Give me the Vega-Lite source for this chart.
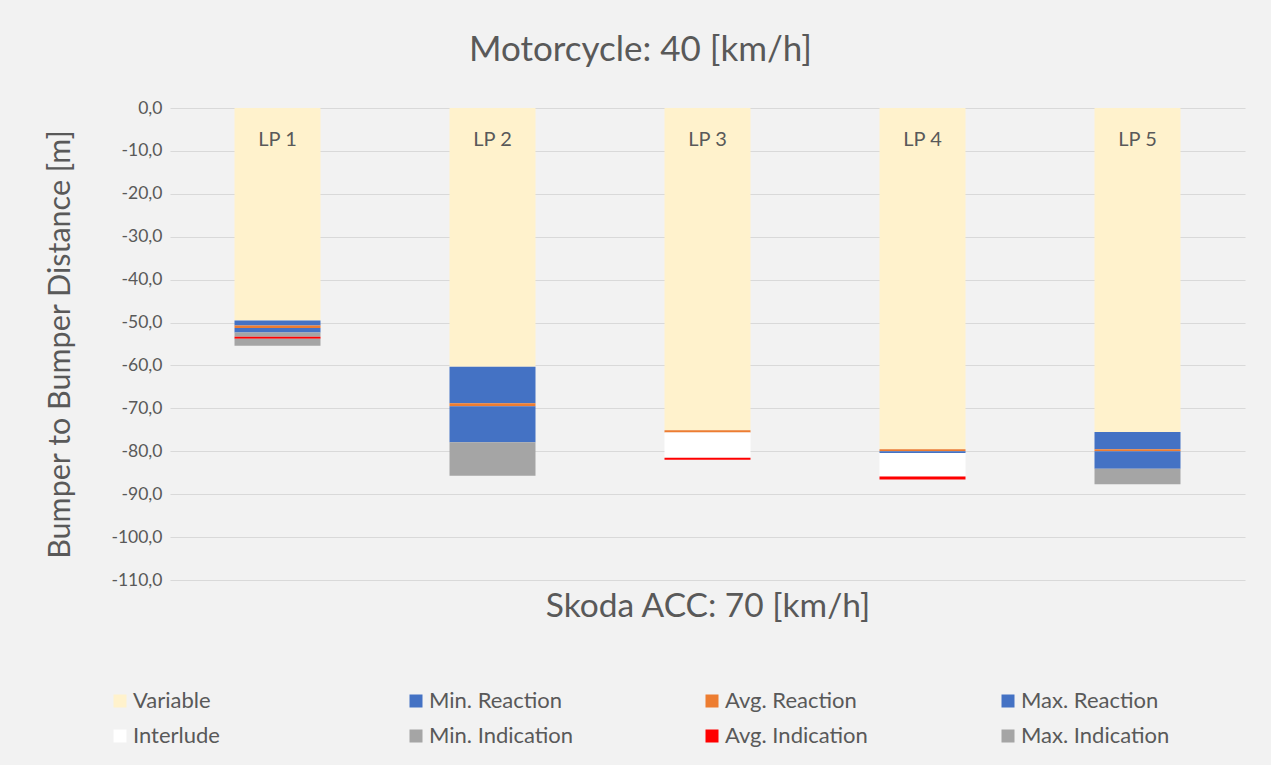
{
  "$schema": "https://vega.github.io/schema/vega-lite/v6.json",
  "autosize": {"type": "none"},
  "padding": {"left": 170, "top": 108, "right": 26, "bottom": 185},
  "width": 1075,
  "height": 472,
  "background": "#f2f2f2",
  "title": {"text": "Motorcycle: 40 [km/h]", "fontSize": 35, "font": "Lato", "fontWeight": "normal", "color": "#595959", "offset": 31, "anchor": "middle", "dx": -67},
  "config": {
    "view": {"stroke": null},
    "font": "Lato",
    "axis": {"labelFont": "Lato", "titleFont": "Lato"},
    "legend": {"labelFont": "Lato"}
  },
  "datasets": {
    "segs": [
      {"lp": "LP 1", "segment": "Variable", "k": 1, "value": -49.5},
      {"lp": "LP 1", "segment": "Min. Reaction", "k": 2, "value": -1.2},
      {"lp": "LP 1", "segment": "Avg. Reaction", "k": 3, "value": -0.6},
      {"lp": "LP 1", "segment": "Max. Reaction", "k": 4, "value": -1.0},
      {"lp": "LP 1", "segment": "Interlude", "k": 5, "value": 0},
      {"lp": "LP 1", "segment": "Min. Indication", "k": 6, "value": -1.0},
      {"lp": "LP 1", "segment": "Avg. Indication", "k": 7, "value": -0.5},
      {"lp": "LP 1", "segment": "Max. Indication", "k": 8, "value": -1.6},
      {"lp": "LP 2", "segment": "Variable", "k": 1, "value": -60.3},
      {"lp": "LP 2", "segment": "Min. Reaction", "k": 2, "value": -8.5},
      {"lp": "LP 2", "segment": "Avg. Reaction", "k": 3, "value": -0.7},
      {"lp": "LP 2", "segment": "Max. Reaction", "k": 4, "value": -8.4},
      {"lp": "LP 2", "segment": "Interlude", "k": 5, "value": 0},
      {"lp": "LP 2", "segment": "Min. Indication", "k": 6, "value": -7.8},
      {"lp": "LP 2", "segment": "Avg. Indication", "k": 7, "value": 0},
      {"lp": "LP 2", "segment": "Max. Indication", "k": 8, "value": 0},
      {"lp": "LP 3", "segment": "Variable", "k": 1, "value": -75.1},
      {"lp": "LP 3", "segment": "Min. Reaction", "k": 2, "value": 0},
      {"lp": "LP 3", "segment": "Avg. Reaction", "k": 3, "value": -0.5},
      {"lp": "LP 3", "segment": "Max. Reaction", "k": 4, "value": 0},
      {"lp": "LP 3", "segment": "Interlude", "k": 5, "value": -5.9},
      {"lp": "LP 3", "segment": "Min. Indication", "k": 6, "value": 0},
      {"lp": "LP 3", "segment": "Avg. Indication", "k": 7, "value": -0.5},
      {"lp": "LP 3", "segment": "Max. Indication", "k": 8, "value": 0},
      {"lp": "LP 4", "segment": "Variable", "k": 1, "value": -79.5},
      {"lp": "LP 4", "segment": "Min. Reaction", "k": 2, "value": 0},
      {"lp": "LP 4", "segment": "Avg. Reaction", "k": 3, "value": -0.5},
      {"lp": "LP 4", "segment": "Max. Reaction", "k": 4, "value": -0.4},
      {"lp": "LP 4", "segment": "Interlude", "k": 5, "value": -5.5},
      {"lp": "LP 4", "segment": "Min. Indication", "k": 6, "value": 0},
      {"lp": "LP 4", "segment": "Avg. Indication", "k": 7, "value": -0.7},
      {"lp": "LP 4", "segment": "Max. Indication", "k": 8, "value": 0},
      {"lp": "LP 5", "segment": "Variable", "k": 1, "value": -75.5},
      {"lp": "LP 5", "segment": "Min. Reaction", "k": 2, "value": -4.0},
      {"lp": "LP 5", "segment": "Avg. Reaction", "k": 3, "value": -0.5},
      {"lp": "LP 5", "segment": "Max. Reaction", "k": 4, "value": -4.1},
      {"lp": "LP 5", "segment": "Interlude", "k": 5, "value": 0},
      {"lp": "LP 5", "segment": "Min. Indication", "k": 6, "value": -3.6},
      {"lp": "LP 5", "segment": "Avg. Indication", "k": 7, "value": 0},
      {"lp": "LP 5", "segment": "Max. Indication", "k": 8, "value": 0}
    ],
    "labels": [
      {"lp": "LP 1"}, {"lp": "LP 2"}, {"lp": "LP 3"}, {"lp": "LP 4"}, {"lp": "LP 5"}
    ]
  },
  "encoding": {
    "x": {
      "field": "lp", "type": "nominal",
      "scale": {"paddingInner": 0.6, "paddingOuter": 0.3},
      "axis": {"labels": false, "ticks": false, "domain": false, "title": "Skoda ACC: 70 [km/h]", "titleFontSize": 33.5, "titleFontWeight": "normal", "titleColor": "#595959", "titlePadding": 10}
    }
  },
  "layer": [
    {
      "data": {"name": "segs"},
      "mark": {"type": "bar"},
      "encoding": {
        "y": {
          "field": "value", "type": "quantitative", "stack": "zero",
          "scale": {"domain": [-110, 0], "nice": false},
          "axis": {
            "values": [0, -10, -20, -30, -40, -50, -60, -70, -80, -90, -100, -110],
            "labelExpr": "replace(replace(format(datum.value, '.1f'), '.', ','), '\u2212', '-')",
            "labelFontSize": 17.5, "labelColor": "#595959", "labelPadding": 8,
            "ticks": false, "domain": false,
            "gridColor": "#d9d9d9", "gridWidth": 1,
            "title": "Bumper to Bumper Distance [m]", "titleFontSize": 30.5, "titleFontWeight": "normal", "titleColor": "#595959", "titlePadding": 35
          }
        },
        "order": {"field": "k", "type": "quantitative", "sort": "ascending"},
        "color": {
          "field": "segment", "type": "nominal",
          "scale": {
            "domain": ["Variable", "Min. Reaction", "Avg. Reaction", "Max. Reaction", "Interlude", "Min. Indication", "Avg. Indication", "Max. Indication"],
            "range": ["#fff2cc", "#4472c4", "#ed7d31", "#4472c4", "#ffffff", "#a5a5a5", "#ff0000", "#a5a5a5"]
          },
          "legend": {
            "title": null, "orient": "none", "legendX": -61, "legendY": 582,
            "direction": "horizontal", "columns": 4, "gridAlign": "all", "columnPadding": 123, "rowPadding": 13,
            "symbolType": "square", "symbolSize": 169, "symbolStrokeWidth": 0,
            "labelFontSize": 22, "labelColor": "#595959", "labelOffset": 2, "labelLimit": 300
          }
        }
      }
    },
    {
      "data": {"name": "labels"},
      "mark": {"type": "text", "fontSize": 20, "color": "#595959", "font": "Lato"},
      "encoding": {
        "y": {"datum": -7.4},
        "text": {"field": "lp"}
      }
    }
  ]
}
